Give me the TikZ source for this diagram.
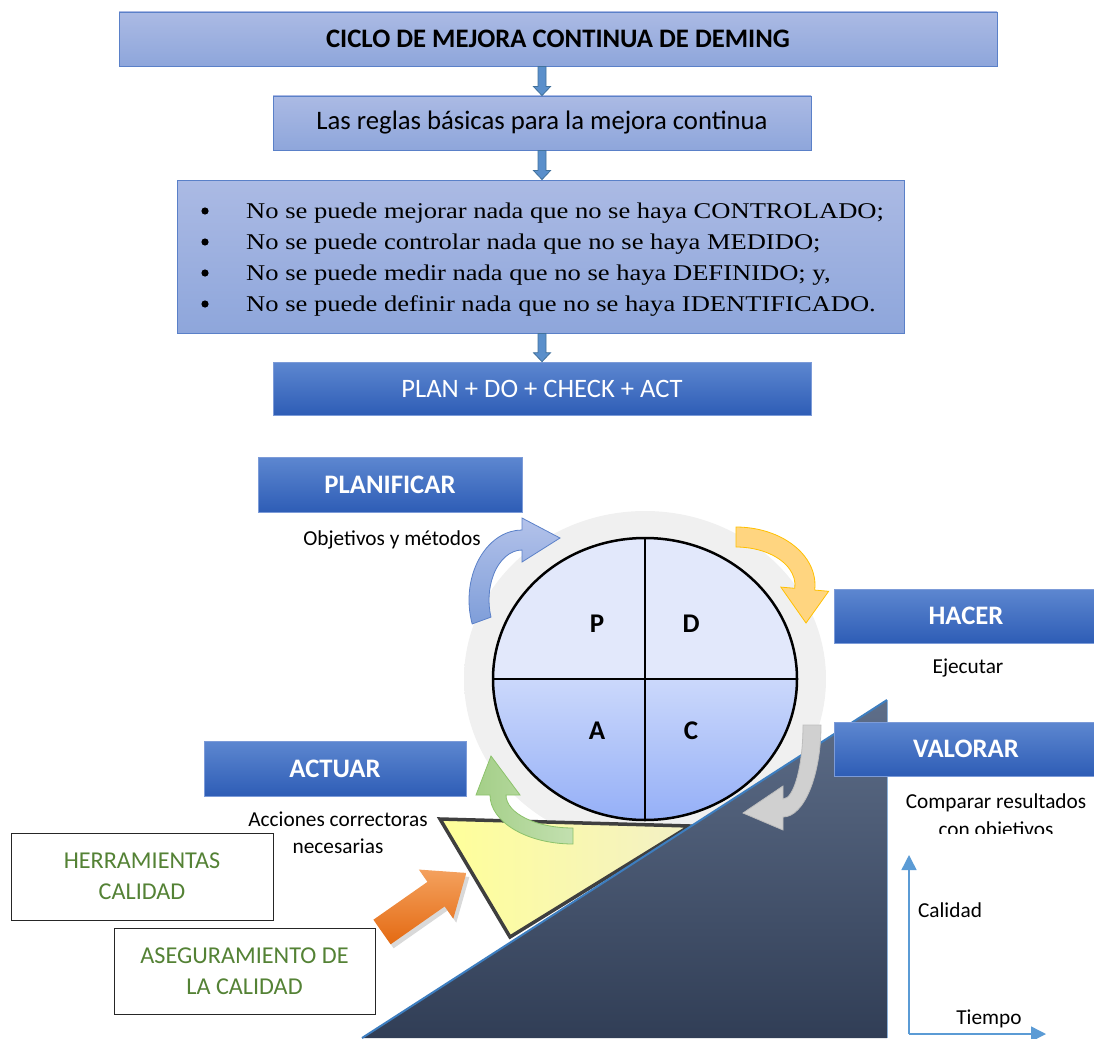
\documentclass[tikz,border=0pt]{standalone}
\usepackage{fontspec}
\setmainfont{Carlito}
\newfontfamily\serifrm{Liberation Serif}[FakeStretch=1.18]
\usetikzlibrary{calc,arrows.meta,shadows}

\definecolor{lbtop}{HTML}{ABBAE4}
\definecolor{lbbot}{HTML}{8EA6DB}
\definecolor{lbedge}{HTML}{5A80C8}
\definecolor{dbtop}{HTML}{5D87D0}
\definecolor{dbbot}{HTML}{2E5DB6}
\definecolor{dbedge}{HTML}{7C9BD8}
\definecolor{arfill}{HTML}{5A8FCB}
\definecolor{aredge}{HTML}{41719C}
\definecolor{qgreen}{HTML}{548235}
\definecolor{pdtop}{HTML}{E2E8FB}
\definecolor{actop}{HTML}{CBD8FB}
\definecolor{acbot}{HTML}{93AEF7}
\definecolor{slopetop}{HTML}{5E6E89}
\definecolor{slopebot}{HTML}{313E56}
\definecolor{slopeedge}{HTML}{3D7EC0}
\definecolor{wedgefill}{HTML}{FFFF99}
\definecolor{wedgepale}{HTML}{F3F0C6}
\definecolor{wedgeedge}{HTML}{3F3F3F}
\definecolor{axisblue}{HTML}{5B9BD5}
\definecolor{bluebendtop}{HTML}{B3C2EA}
\definecolor{bluebendbot}{HTML}{7F9ED9}
\definecolor{goldedge}{HTML}{FFC000}
\definecolor{goldfill}{HTML}{FFD580}
\definecolor{greyedge}{HTML}{BDBDBD}
\definecolor{greyfill}{HTML}{D0D0D0}
\definecolor{greenedge}{HTML}{8CC26B}
\definecolor{greenhead}{HTML}{A4CF88}
\definecolor{greentail}{HTML}{C3E0B0}
\definecolor{orglight}{HTML}{F4A15E}
\definecolor{orgdark}{HTML}{E46A12}

\pgfdeclareradialshading{halo}{\pgfpoint{0bp}{0bp}}{%
  color(0bp)=(black!6); color(42bp)=(black!6); color(44bp)=(black!3.5);
  color(47bp)=(black!1.2); color(50bp)=(white)}

% curved block arrow along an elliptic arc (angles grow clockwise on the page)
% #1 style, #2 centre, #3 rx, #4 ry, #5 start, #6 end, #7 body half width,
% #8 head half width, #9 tip relative to the centre
\newcommand\bentarrow[9]{%
  \path[#1, shift={#2}]
    ({(#3+#7)*cos(#5)},{(#4+#7)*sin(#5)})
    arc[start angle=#5, end angle=#6, x radius={#3+#7}, y radius={#4+#7}]
    -- ({(#3+#8)*cos(#6)},{(#4+#8)*sin(#6)})
    -- #9
    -- ({(#3-#8)*cos(#6)},{(#4-#8)*sin(#6)})
    -- ({(#3-#7)*cos(#6)},{(#4-#7)*sin(#6)})
    arc[start angle=#6, end angle=#5, x radius={#3-#7}, y radius={#4-#7}]
    -- cycle;}

\tikzset{
  lightbox/.style={draw=lbedge, line width=0.9pt, top color=lbtop,
    bottom color=lbbot, inner sep=0pt},
  darkbox/.style={draw=dbedge, line width=0.6pt, top color=dbtop,
    bottom color=dbbot, text=white, inner sep=0pt,
    font=\fontsize{26.7}{30}\selectfont\bfseries},
  plainbox/.style={draw=black!85, line width=1pt, fill=white, text=qgreen,
    align=center, inner sep=0pt, font=\fontsize{24.2}{31}\selectfont},
  note/.style={inner sep=0pt, font=\fontsize{21.3}{27}\selectfont, align=center},
  rule/.style={inner sep=0pt, anchor=base west,
    font=\serifrm\fontsize{22.5}{26}\selectfont},
  letter/.style={inner sep=0pt, font=\fontsize{27}{30}\selectfont\bfseries},
  blockarrow/.style={draw=aredge, fill=arfill, line width=0.8pt,
    to path={let \p1=(\tikztostart), \p2=(\tikztotarget) in
      (\x1-4pt,\y1) -- (\x1-4pt,\y2+9pt) -- (\x1-8.5pt,\y2+9pt) -- (\x1,\y2)
      -- (\x1+8.5pt,\y2+9pt) -- (\x1+4pt,\y2+9pt) -- (\x1+4pt,\y1) -- cycle}},
  axisline/.style={draw=axisblue, line width=1.5pt,
    -{Triangle[length=15pt,width=15pt]}},
  bluebend/.style={draw=lbedge, line width=0.8pt, top color=bluebendtop,
    bottom color=bluebendbot},
  goldbend/.style={draw=goldedge, line width=0.8pt, fill=goldfill},
  greybend/.style={draw=greyedge, line width=0.8pt, fill=greyfill},
  greenbend/.style={draw=greenedge, line width=0.8pt, left color=greenhead,
    right color=greentail},
}

\begin{document}
\begin{tikzpicture}[x=1pt,y=-1pt]
\useasboundingbox (0,0) rectangle (1094,1038);

% ---------- top flow ----------
\node[lightbox, minimum width=878, minimum height=54,
  font=\fontsize{26.7}{30}\selectfont\bfseries] (title) at (558,39)
  {CICLO DE MEJORA CONTINUA DE DEMING};
\node[lightbox, minimum width=538, minimum height=54,
  font=\fontsize{26.7}{30}\selectfont] (rules) at (542,123)
  {Las reglas básicas para la mejora continua};
\node[lightbox, minimum width=727, minimum height=153] (list) at (540.5,256.5) {};
\node[darkbox, minimum width=538, minimum height=53,
  font=\fontsize{26.6}{30}\selectfont] (pdca) at (542,388.5)
  {PLAN + DO + CHECK + ACT};

\path[blockarrow] (rules.north |- title.south) to (rules.north);
\path[blockarrow] (rules.south) to (rules.south |- list.north);
\path[blockarrow] (pdca.north |- list.south) to (pdca.north);

\foreach \yy/\txt [count=\i] in
  {218/{No se puede mejorar nada que no se haya CONTROLADO;},
   249/{No se puede controlar nada que no se haya MEDIDO;},
   280/{No se puede medir nada que no se haya DEFINIDO; y,},
   311/{No se puede definir nada que no se haya IDENTIFICADO.}}{
  \fill (205,\yy-7) circle (3.6);
  \node[rule] (rule\i) at (246,\yy) {\txt};
}

% ---------- cycle ----------
\shade[shading=halo] (645,679) ellipse [x radius=181, y radius=168];

% quality wedge resting on the slope
\shade[left color=wedgefill, middle color=wedgefill, right color=wedgepale,
  draw=wedgeedge, line width=3.5pt, line join=miter]
  (440,819) -- (690,826) -- (510,937) -- cycle;

% rising slope
\shade[top color=slopetop, bottom color=slopebot]
  (362,1038) -- (887,700) -- (887,1038) -- cycle;
\draw[slopeedge, line width=2pt] (362,1038) -- (887,700);
\draw[slopeedge!60, line width=1pt] (887,700) -- (887,1038);

% PDCA wheel
\begin{scope}
  \clip (645,679) ellipse [x radius=152, y radius=141];
  \fill[pdtop] (480,520) rectangle (810,679);
  \shade[top color=actop, bottom color=acbot] (480,679) rectangle (810,825);
\end{scope}
\draw[line width=2.5pt] (645,679) ellipse [x radius=152, y radius=141];
\draw[line width=2.2pt] (645,538) -- (645,820);
\draw[line width=2.2pt] (493,679) -- (797,679);
\node[letter] (lp) at (597,624) {P};
\node[letter] (ld) at (691,624) {D};
\node[letter] (la) at (597,731) {A};
\node[letter] (lc) at (691,731) {C};

% curved arrows round the wheel
\bentarrow{bluebend}{(522,600)}{43}{60}{160}{270}{10}{22}{(38,-62)}
\bentarrow{goldbend}{(736,585)}{69}{48}{270}{365}{10}{24}{(70,38)}
\bentarrow{greybend}{(783,725)}{29}{83}{0}{90}{9}{22}{(-40,88)}
\bentarrow{greenbend}{(573,795)}{75}{41}{90}{180}{8}{22}{(-82,-39)}

% push arrow towards the wedge
\begin{scope}[shift={(382,932)}, rotate=35]
  \shade[top color=orglight, bottom color=orgdark,
    drop shadow={opacity=0.3, shadow xshift=3pt, shadow yshift=-4pt}]
    (0,-15) -- (66,-15) -- (66,-30) -- (103,0) -- (66,30) -- (66,15)
    -- (0,15) -- cycle;
\end{scope}

% ---------- stage boxes ----------
\node[darkbox, minimum width=264, minimum height=55] (plan) at (390,484.5) {PLANIFICAR};
\node[darkbox, minimum width=264, minimum height=54] (hacer) at (966,616) {HACER};
\node[darkbox, minimum width=264, minimum height=54] (valorar) at (966,749) {VALORAR};
\node[darkbox, minimum width=262, minimum height=55] (actuar) at (335,768.5) {ACTUAR};

\node[note] (objetivos) at (392,540) {Objetivos y métodos};
\node[note] (ejecutar) at (968,668) {Ejecutar};
\node[note] (comparar) at (996,803) {Comparar resultados};
\begin{scope}
  \clip (880,815) rectangle (1094,833);
  \node[note] (conobj) at (996,831) {con objetivos};
\end{scope}
\node[note] (acciones) at (338,833) {Acciones correctoras\\necesarias};

\node[plainbox, minimum width=262, minimum height=87] (herr) at (142,876.5)
  {HERRAMIENTAS\\CALIDAD};
\node[plainbox, minimum width=261, minimum height=86] (aseg) at (244.5,971)
  {ASEGURAMIENTO DE\\LA CALIDAD};

% ---------- axes ----------
\coordinate (orig) at (909,1034);
\coordinate (ytop) at (909,855);
\coordinate (xend) at (1046,1034);
\draw[axisline] (orig) -- (ytop);
\draw[axisline] (orig) -- (xend);
\node[note] (calidad) at (950,910) {Calidad};
\node[note] (tiempo) at (989,1019) {Tiempo};
\end{tikzpicture}
\end{document}
